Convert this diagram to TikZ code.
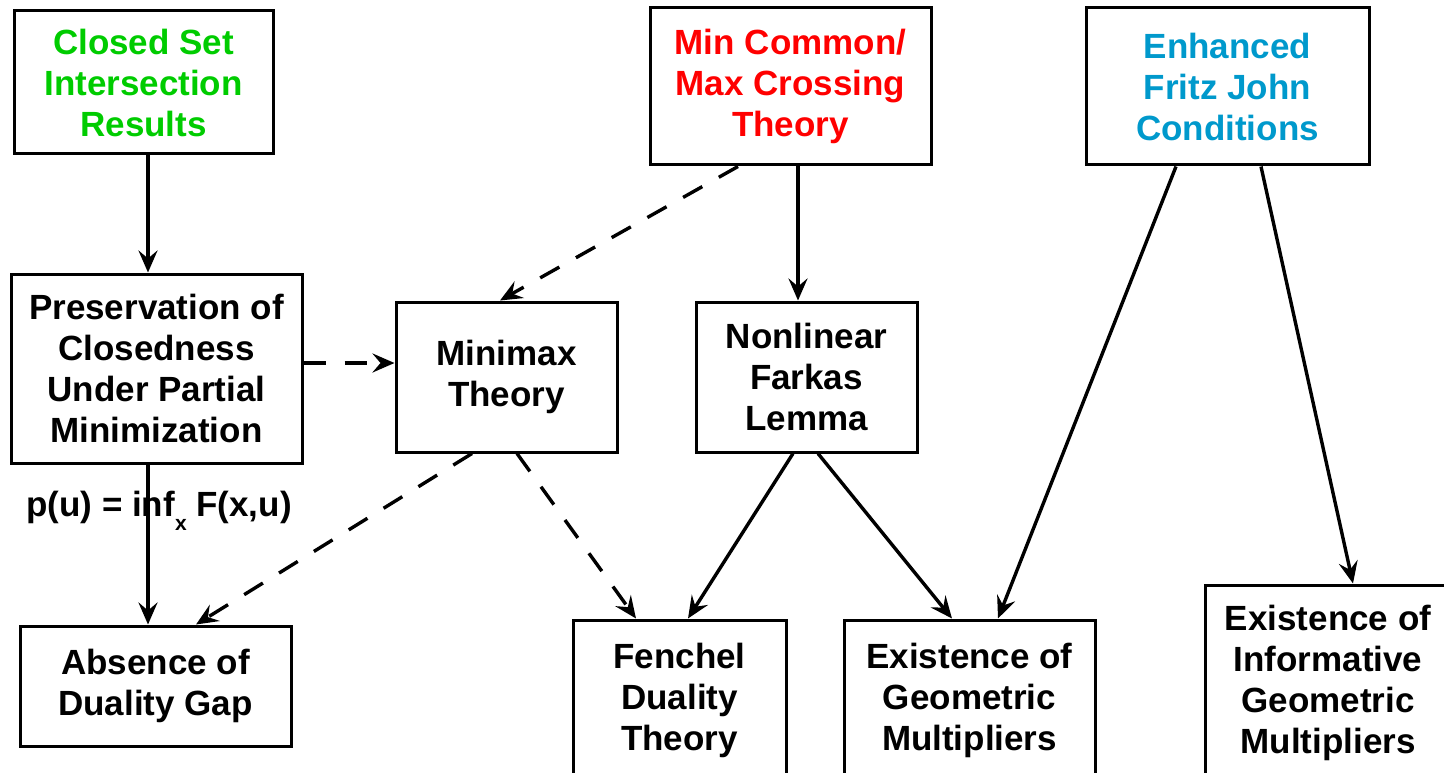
\documentclass[tikz,border=0pt]{standalone}
\usepackage{fontspec}
\setmainfont{Liberation Sans}
\usetikzlibrary{arrows.meta}
\definecolor{cgreen}{RGB}{0,204,0}
\definecolor{cred}{RGB}{255,0,0}
\definecolor{cblue}{RGB}{0,153,204}
\begin{document}
\begin{tikzpicture}[x=1pt,y=-1pt,
  box/.style={draw=black,line width=3pt,rectangle,align=center,inner sep=0pt,
    font=\fontsize{35}{41}\selectfont\bfseries},
  conn/.style={line width=3.4pt,-{Stealth[length=22pt,width=19pt,inset=8pt]}},
  dashconn/.style={conn,dash pattern=on 22pt off 19pt}]
\useasboundingbox (0,0) rectangle (1444,773);
\fill[white] (0,0) rectangle (1444,773);
\node[box,minimum width=259pt,minimum height=143pt,text=cgreen] (closed) at (143.5,82.5) {Closed Set\\Intersection\\Results};
\node[box,minimum width=281pt,minimum height=157pt,text=cred] (mincommon) at (790.5,86.5) {Min Common/\\Max Crossing\\Theory};
\node[box,minimum width=283pt,minimum height=157pt,text=cblue] (enhanced) at (1227.5,86.5) {Enhanced\\Fritz John\\Conditions};
\node[box,minimum width=291pt,minimum height=189pt] (pres) at (156.5,368.5) {Preservation of\\Closedness\\Under Partial\\Minimization};
\node[box,minimum width=221pt,minimum height=150pt] (minimax) at (506.5,377) {Minimax\\Theory};
\node[box,minimum width=221pt,minimum height=150pt] (nonlinear) at (806.5,377) {Nonlinear\\Farkas\\Lemma};
\node[box,minimum width=271pt,minimum height=120pt] (absence) at (155.5,686) {Absence of\\Duality Gap};
\node[box,minimum width=213pt,minimum height=160pt] (fenchel) at (679.5,700) {Fenchel\\Duality\\Theory};
\node[box,minimum width=251pt,minimum height=160pt] (existgeo) at (969.5,700) {Existence of\\Geometric\\Multipliers};
\node[box,minimum width=246pt,minimum height=195pt] (inform) at (1328,682.5) {Existence of\\Informative\\Geometric\\Multipliers};
\node[font=\fontsize{35}{41}\selectfont\bfseries,inner sep=0pt] (plabel) at (159,511) {p(u) = inf\raisebox{-14pt}{\fontsize{21}{21}\selectfont x} F(x,u)};
\draw[conn] ([xshift=4.5pt]closed.south) -- ([xshift=-8.5pt]pres.north);
\draw[dashconn] ([yshift=5.5pt]pres.east) -- ([yshift=14pt]minimax.west);
\draw[conn] ([xshift=-8.5pt]pres.south) -- ([xshift=-7.5pt]absence.north);
\draw[dashconn] ([xshift=-52.5pt]mincommon.south) -- ([xshift=-6.5pt]minimax.north);
\draw[conn] ([xshift=7.5pt]mincommon.south) -- ([xshift=-8.5pt]nonlinear.north);
\draw[dashconn] ([xshift=-34.5pt]minimax.south) -- ([xshift=40.5pt]absence.north);
\draw[dashconn] ([xshift=10.5pt]minimax.south) -- ([xshift=-43.5pt]fenchel.north);
\draw[conn] ([xshift=-13.5pt]nonlinear.south) -- ([xshift=8.5pt]fenchel.north);
\draw[conn] ([xshift=11.5pt]nonlinear.south) -- ([xshift=-17.5pt]existgeo.north);
\draw[conn] ([xshift=-51.5pt]enhanced.south) -- ([xshift=28.5pt]existgeo.north);
\draw[conn] ([xshift=33.5pt]enhanced.south) -- ([xshift=25pt]inform.north);
\end{tikzpicture}
\end{document}
